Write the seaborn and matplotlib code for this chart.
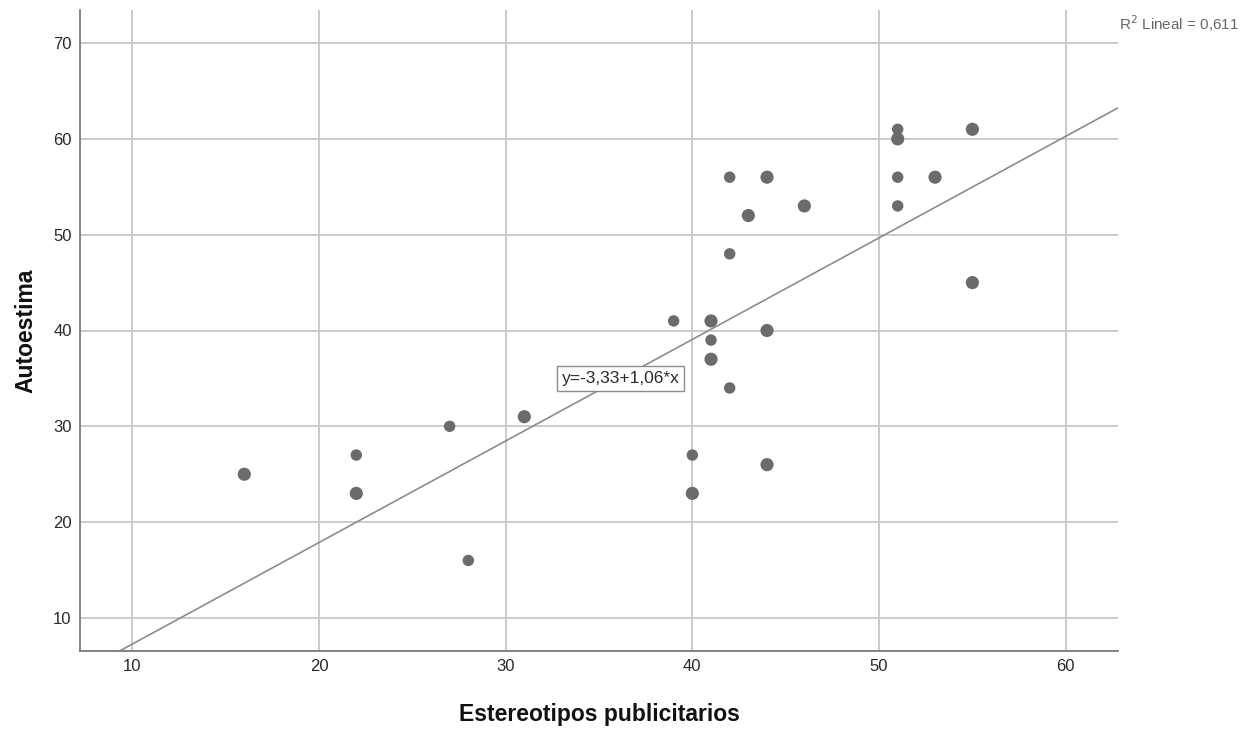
import numpy as np
import pandas as pd
import matplotlib
matplotlib.use("Agg")
import matplotlib.pyplot as plt
import seaborn as sns

# Data
estereotipos = [16, 22, 22, 27, 28, 31, 39, 40, 40, 41, 41, 41, 42, 42, 42, 43,
                44, 44, 44, 46, 51, 51, 51, 51, 53, 55, 55]
autoestima = [25, 27, 23, 30, 16, 31, 41, 27, 23, 41, 39, 37, 34, 48, 56, 52,
              56, 40, 26, 53, 61, 60, 56, 53, 56, 61, 45]
# number of overlapping cases at each point (heavier markers in the reference)
cases = [2, 1, 2, 1, 1, 2, 1, 1, 2, 2, 1, 2, 1, 1, 1, 2,
         2, 2, 2, 2, 1, 2, 1, 1, 2, 2, 2]
intercept = -3.33
slope = 1.06
r2 = 0.611
x_ticks = [10, 20, 30, 40, 50, 60]
y_ticks = [10, 20, 30, 40, 50, 60, 70]

df = pd.DataFrame({"x": estereotipos, "y": autoestima, "n": cases})

sns.set_theme(style="white")
plt.rcParams["font.family"] = ["Liberation Sans", "DejaVu Sans"]

fig = plt.figure(figsize=(12.6, 7.31), dpi=100)
ax = fig.add_axes([80 / 1260, 1 - 651 / 731, (1118 - 80) / 1260, (651 - 10) / 731])

ax.set_xlim(7.2, 62.8)
ax.set_ylim(6.55, 73.45)
ax.set_xticks(x_ticks)
ax.set_yticks(y_ticks)
ax.grid(True, color="#cbcbcb", linewidth=1.4)
ax.set_axisbelow(True)

sns.scatterplot(data=df, x="x", y="y", size="n", sizes={1: 68, 2: 90},
                color="#6b6b6b", edgecolor="none", legend=False, ax=ax, zorder=3)

xs = np.array(ax.get_xlim())
ax.plot(xs, intercept + slope * xs, color="#8c8c8c", linewidth=1.2, zorder=2)

eq = f"y={intercept:.2f}+{slope:.2f}*x".replace(".", ",")
ax.text(36.15, 35.0, eq, ha="center", va="center", fontsize=12.5,
        color="#2a2a2a", zorder=4,
        bbox=dict(boxstyle="square,pad=0.28", facecolor="white",
                  edgecolor="#8c8c8c", linewidth=1.0))

for s in ["top", "right"]:
    ax.spines[s].set_visible(False)
for s in ["left", "bottom"]:
    ax.spines[s].set_color("#7a7a7a")
    ax.spines[s].set_linewidth(1.3)

ax.tick_params(axis="both", length=0, labelsize=12, colors="#2a2a2a", pad=6)
ax.set_xlabel("Estereotipos publicitarios", fontsize=16.5, fontweight="bold",
              color="#111111", labelpad=21)
ax.set_ylabel("Autoestima", fontsize=16.5, fontweight="bold", color="#111111",
              labelpad=11)

r2_txt = f"{r2:.3f}".replace(".", ",")
fig.text(1119 / 1260, 1 - 24 / 731, "R$^2$ Lineal = " + r2_txt,
         fontsize=11, color="#666666", ha="left", va="center")

fig.savefig("out.png", dpi=100)
